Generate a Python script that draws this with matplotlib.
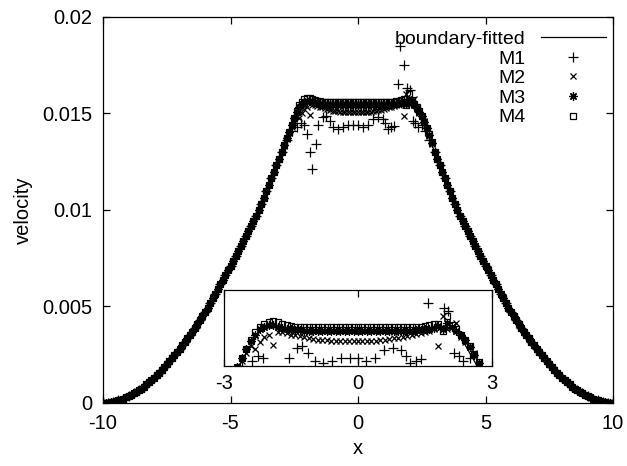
import numpy as np
import matplotlib
matplotlib.use("Agg")
import matplotlib.pyplot as plt

plt.rcParams['font.family'] = ['Liberation Sans', 'DejaVu Sans']
plt.rcParams['axes.unicode_minus'] = False

# ---------------- data (velocity values in units of 1e-4) ----------------
UNIT = 1e-4
x_tail_left = np.round(np.linspace(-10.0, -3.0, 71), 1)
x_center = np.round(np.linspace(-2.9, 2.9, 59), 1)
x_tail_right = np.round(np.linspace(3.0, 10.0, 71), 1)

v_tail_left = [0.0, 0.1, 0.2, 0.4, 0.7, 1.0, 1.4, 1.8, 2.3, 2.9,
               3.5, 4.2, 5.0, 5.8, 6.6, 7.5, 8.5, 9.6, 10.7, 11.8,
               13.0, 14.3, 15.7, 17.1, 18.5, 20.0, 21.6, 23.2, 24.8, 26.4,
               28.0, 29.8, 31.6, 33.4, 35.2, 37.0, 39.0, 41.0, 43.0, 45.0,
               47.0, 49.4, 51.8, 54.2, 56.6, 59.0, 61.4, 63.8, 66.2, 68.6,
               71.0, 73.6, 76.2, 78.8, 81.4, 84.0, 86.6, 89.2, 91.8, 94.4,
               97.0, 100.0, 103.0, 106.3, 109.6, 113.0, 116.3, 119.6, 123.0, 126.5,
               130.0]
v_tail_right = [130.0, 126.5, 123.0, 119.6, 116.3, 113.0, 109.6, 106.3, 103.0, 100.0,
                97.0, 94.4, 91.8, 89.2, 86.6, 84.0, 81.4, 78.8, 76.2, 73.6,
                71.0, 68.6, 66.2, 63.8, 61.4, 59.0, 56.6, 54.2, 51.8, 49.4,
                47.0, 45.0, 43.0, 41.0, 39.0, 37.0, 35.2, 33.4, 31.6, 29.8,
                28.0, 26.4, 24.8, 23.2, 21.6, 20.0, 18.5, 17.1, 15.7, 14.3,
                13.0, 11.8, 10.7, 9.6, 8.5, 7.5, 6.6, 5.8, 5.0, 4.2,
                3.5, 2.9, 2.3, 1.8, 1.4, 1.0, 0.7, 0.4, 0.2, 0.1,
                0.0]

fit_center = [133.5, 137.0, 140.0, 143.0, 146.0, 149.0, 151.8, 154.0, 155.2, 155.6,
              155.7, 155.7, 155.7, 155.7, 155.7, 155.7, 155.7, 155.7, 155.7, 155.7,
              155.7, 155.7, 155.7, 155.7, 155.7, 155.7, 155.7, 155.7, 155.7, 155.7,
              155.7, 155.7, 155.7, 155.7, 155.7, 155.7, 155.7, 155.7, 155.7, 155.7,
              155.7, 155.7, 155.7, 155.7, 155.7, 155.7, 155.7, 155.7, 155.7, 155.6,
              155.2, 154.0, 151.8, 149.0, 146.0, 143.0, 140.0, 137.0, 133.5]

m2_center = [133.0, 136.5, 140.0, 143.0, 146.0, 148.5, 147.5, 150.0, 152.0, 153.0,
             149.0, 154.0, 154.0, 153.5, 153.0, 153.0, 152.5, 152.0, 151.5, 151.2,
             151.0, 151.0, 150.8, 150.7, 150.6, 150.5, 150.5, 150.5, 150.5, 150.5,
             150.5, 150.5, 150.6, 150.7, 150.8, 151.0, 151.2, 151.5, 151.8, 152.2,
             152.6, 153.0, 153.3, 153.6, 154.0, 154.5, 155.0, 148.5, 160.0, 155.0,
             156.0, 157.5, 152.0, 150.0, 148.5, 146.0, 142.5, 138.0, 134.0]

m3_center = [133.5, 137.0, 140.5, 144.0, 147.5, 150.5, 153.0, 155.0, 156.0, 156.5,
             156.5, 156.0, 155.6, 155.3, 155.0, 154.8, 154.6, 154.4, 154.4, 154.4,
             154.4, 154.4, 154.3, 154.3, 154.3, 154.3, 154.3, 154.3, 154.3, 154.3,
             154.3, 154.3, 154.3, 154.3, 154.3, 154.3, 154.4, 154.4, 154.4, 154.4,
             154.4, 154.4, 154.6, 154.8, 155.0, 155.3, 155.6, 156.2, 155.0, 157.5,
             156.0, 154.5, 152.8, 150.8, 148.3, 145.3, 142.3, 138.8, 134.8]

m4_center = [133.5, 137.0, 140.5, 144.0, 147.5, 151.0, 154.0, 156.0, 157.2, 157.8,
             158.0, 157.6, 157.0, 156.5, 156.2, 156.0, 155.9, 155.8, 155.8, 155.8,
             155.8, 155.8, 155.8, 155.8, 155.8, 155.8, 155.8, 155.8, 155.8, 155.8,
             155.8, 155.8, 155.8, 155.8, 155.8, 155.8, 155.8, 155.8, 155.8, 155.8,
             155.8, 155.8, 155.9, 156.0, 156.2, 156.5, 157.0, 157.2, 154.2, 160.0,
             156.8, 155.0, 153.0, 151.0, 148.5, 145.5, 142.5, 139.0, 135.0]

x_m1_center = [-2.8, -2.6, -2.38, -2.23, -2.12, -2.0, -1.9, -1.79, -1.66, -1.55,
               -1.37, -1.25, -1.11, -0.97, -0.78, -0.58, -0.39, -0.19, 0.0, 0.19,
               0.39, 0.58, 0.78, 0.97, 1.07, 1.17, 1.3, 1.4, 1.56, 1.63,
               1.79, 1.92, 2.02, 2.14, 2.25, 2.36, 2.51, 2.64, 2.8]
m1_center = [136.0, 141.0, 143.0, 145.0, 144.0, 139.0, 130.0, 121.0, 134.0, 144.0,
             148.0, 148.5, 146.0, 143.0, 142.0, 143.0, 144.0, 144.0, 144.0, 143.0,
             144.0, 147.0, 148.0, 147.0, 145.0, 142.0, 143.0, 143.5, 165.0, 185.0,
             175.0, 163.0, 162.0, 146.0, 145.0, 143.0, 144.0, 141.0, 136.0]

labels = ["boundary-fitted", "M1", "M2", "M3", "M4"]
x_ticks = [-10, -5, 0, 5, 10]
y_ticks = [0, 0.005, 0.01, 0.015, 0.02]
y_tick_labels = ["0", "0.005", "0.01", "0.015", "0.02"]
inset_ticks = [-3, 0, 3]

# ---------------- assemble series ----------------
x_all = np.concatenate([x_tail_left, x_center, x_tail_right])
fit = np.concatenate([v_tail_left, fit_center, v_tail_right]) * UNIT
m2 = np.concatenate([v_tail_left, m2_center, v_tail_right]) * UNIT
m3 = np.concatenate([v_tail_left, m3_center, v_tail_right]) * UNIT
m4 = np.concatenate([v_tail_left, m4_center, v_tail_right]) * UNIT
x_m1 = np.concatenate([x_tail_left[::2], x_m1_center, x_tail_right[::2]])
m1 = np.concatenate([np.array(v_tail_left)[::2], m1_center,
                     np.array(v_tail_right)[::2]]) * UNIT

star8 = (8, 2, 0)
mk = dict(linestyle='none', color='black', markeredgewidth=0.9)
styles = [dict(marker='+', markersize=6.5, **mk),
          dict(marker='x', markersize=5.0, **mk),
          dict(marker=star8, markersize=6.0, **mk),
          dict(marker='s', markersize=4.8, markerfacecolor='none', **mk)]

W, H = 627, 466
fig = plt.figure(figsize=(W / 100, H / 100), dpi=100)
ax = fig.add_axes([103 / W, 1 - 403 / H, (613 - 103) / W, (403 - 16.6) / H])


def draw(a):
    a.plot(x_all, fit, color='black', lw=0.9, label=labels[0])
    for (xs, ys), st, lb in zip([(x_m1, m1), (x_all, m2), (x_all, m3), (x_all, m4)],
                                styles, labels[1:]):
        a.plot(xs, ys, label=lb, **st)


draw(ax)
ax.set_xlim(-10, 10)
ax.set_ylim(0, 0.02)
ax.set_xticks(x_ticks)
ax.set_xticklabels([str(t) for t in x_ticks])
ax.set_yticks(y_ticks)
ax.set_yticklabels(y_tick_labels)
ax.tick_params(direction='in', length=5, width=0.9, top=True, right=True,
               labelsize=14.5, pad=8)
for s in ax.spines.values():
    s.set_linewidth(0.9)
ax.set_xlabel('x', fontsize=14.5, labelpad=4)
ax.set_ylabel('velocity', fontsize=14.5, labelpad=6)

leg = ax.legend(loc='upper right', frameon=False, markerfirst=False,
                fontsize=14, handlelength=3.35, handletextpad=0.8,
                labelspacing=0.1, borderpad=0, borderaxespad=0,
                bbox_to_anchor=(606 / W, 1 - 30.5 / H),
                bbox_transform=fig.transFigure)

# ---------------- inset ----------------
ins = fig.add_axes([224 / W, 1 - 366 / H, (492 - 224) / W, (366 - 290) / H])
ins.set_facecolor('none')
draw(ins)
ins.set_xlim(-3, 3)
ins.set_ylim(0.0141, 0.0170)
ins.set_xticks(inset_ticks)
ins.set_xticklabels([str(t) for t in inset_ticks])
ins.set_yticks([])
ins.tick_params(direction='in', length=5, width=0.9, top=True,
                labelsize=14.5, pad=6)
for s in ins.spines.values():
    s.set_linewidth(0.9)

fig.savefig('out.png', dpi=100)
